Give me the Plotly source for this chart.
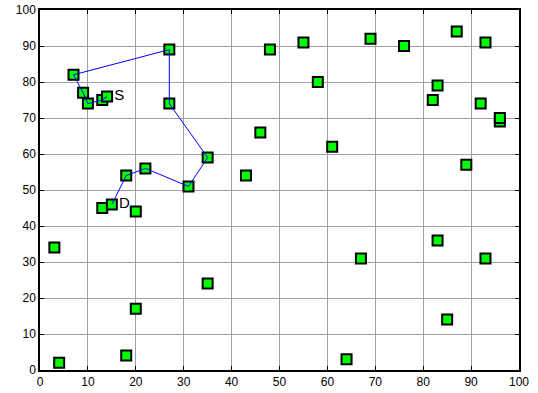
import plotly.graph_objects as go

# Node coordinates (x, y)
node_x = [3, 4, 7, 9, 10, 13, 14, 13, 15, 18, 18, 20, 20, 22, 27, 27, 31, 35, 35,
          43, 46, 48, 55, 58, 61, 64, 67, 69, 76, 82, 83, 83, 85, 87, 89, 92, 93, 93, 96, 96]
node_y = [34, 2, 82, 77, 74, 75, 76, 45, 46, 54, 4, 44, 17, 56, 89, 74, 51, 59, 24,
          54, 66, 89, 91, 80, 62, 3, 31, 92, 90, 75, 79, 36, 14, 94, 57, 74, 91, 31, 69, 70]

# Route from source S to destination D
path_x = [14, 13, 10, 9, 7, 27, 27, 35, 31, 22, 18, 15]
path_y = [76, 75, 74, 77, 82, 89, 74, 59, 51, 56, 54, 46]

label_text = ["S", "D"]
label_x = [14, 15]
label_y = [76, 46]

fig = go.Figure()

fig.add_trace(go.Scatter(
    x=node_x, y=node_y, mode="markers",
    marker=dict(symbol="square", size=10, color="#00ff00",
                line=dict(color="black", width=2)),
    hoverinfo="skip", showlegend=False,
))

fig.add_trace(go.Scatter(
    x=path_x, y=path_y, mode="lines",
    line=dict(color="#0000ff", width=1),
    hoverinfo="skip", showlegend=False,
))

# Labels sit just right of their nodes (invisible marker supplies the offset)
fig.add_trace(go.Scatter(
    x=label_x, y=label_y, mode="markers+text", text=label_text,
    marker=dict(size=10, opacity=0),
    textposition="middle right",
    textfont=dict(family="Arial, Liberation Sans, sans-serif", size=15, color="black"),
    hoverinfo="skip", showlegend=False,
))

axis_common = dict(
    range=[0, 100], dtick=10, tick0=0,
    showline=True, linecolor="black", linewidth=1.5, mirror="ticks",
    ticks="inside", ticklen=4, tickcolor="black",
    showgrid=True, gridcolor="#a0a0a0", gridwidth=1,
    zeroline=False, automargin=False,
    tickfont=dict(family="Arial, Liberation Sans, sans-serif", size=12, color="black"),
)

fig.update_layout(
    template="none",
    width=538, height=393,
    margin=dict(l=40, r=19, t=10, b=23, pad=0),
    paper_bgcolor="white", plot_bgcolor="white",
    xaxis=axis_common,
    yaxis=axis_common,
)

fig.write_html("out.html")
